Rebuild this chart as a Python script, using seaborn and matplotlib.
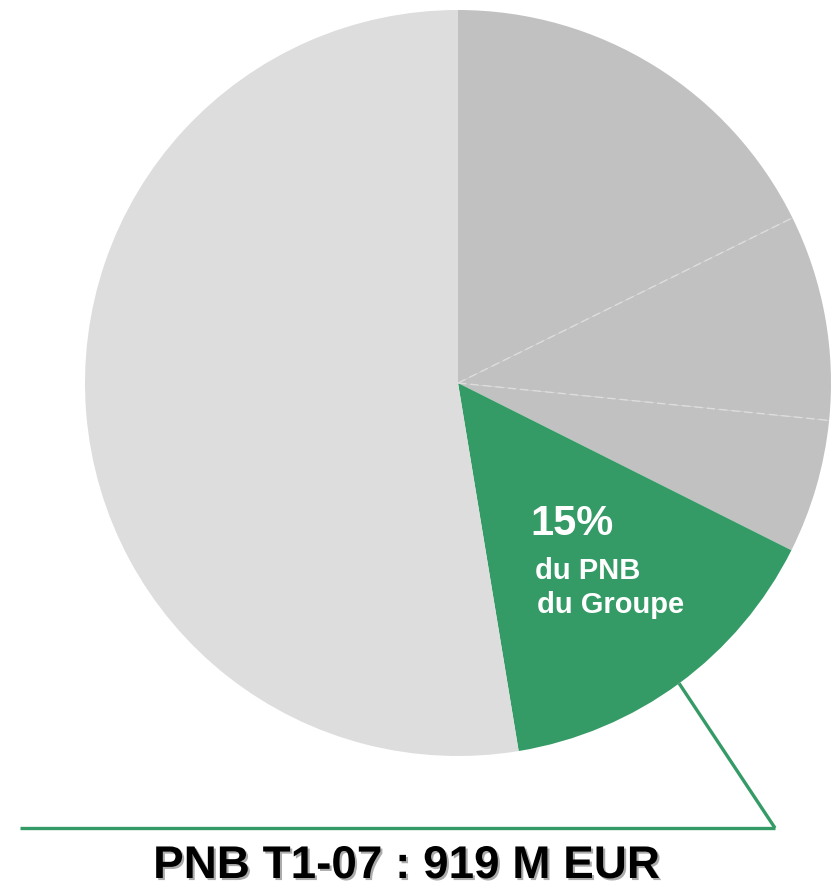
import numpy as np
import matplotlib
matplotlib.use("Agg")
import matplotlib.pyplot as plt
import matplotlib.patheffects as pe
import seaborn as sns

# Share of group net banking income (PNB), clockwise from 12 o'clock
segments = ["Segment A", "Segment B", "Segment C", "Pôle", "Autres"]
shares = [17.7, 8.9, 5.8, 15.0, 52.6]
colors = ["#C1C1C1", "#C1C1C1", "#C1C1C1", "#359B66", "#DDDDDD"]
highlight = 3
pct_label = "15%"
sub_label = ["du PNB", "du Groupe"]
title = "PNB T1-07 : 919 M EUR"

sns.set_theme(style="white")
plt.rcParams["font.family"] = ["Liberation Sans", "DejaVu Sans"]

W, H = 835, 890
fig = plt.figure(figsize=(W / 100, H / 100), dpi=100)
cx, cy, r = 458, 383, 373
ax = fig.add_axes([(cx - r) / W, (H - cy - r) / H, 2 * r / W, 2 * r / H])

wedges, _ = ax.pie(shares, colors=colors, startangle=90, counterclock=False,
                   radius=1, wedgeprops=dict(linewidth=0, edgecolor="none"))
ax.set_xlim(-1, 1)
ax.set_ylim(-1, 1)
ax.set_aspect("equal", adjustable="box")
ax.axis("off")

# dashed separators between the grey segments
total = sum(shares)
cum = np.cumsum(shares)
for i in range(2):
    ang = np.deg2rad(90 - 360 * cum[i] / total)
    ax.plot([0, np.cos(ang)], [0, np.sin(ang)], color="#DDDDDD", lw=1,
            ls=(0, (6, 3)))

# leader line from the highlighted wedge to the baseline
start = 90 - 360 * (cum[highlight] - shares[highlight]) / total
end = 90 - 360 * cum[highlight] / total
mid = np.deg2rad((start + end) / 2)
green = colors[highlight]
def to_data(px, py):
    return (px - cx) / r, (cy - py) / r
bx, by = to_data(775, 828)
lx, _ = to_data(20, 828)
ax.plot([np.cos(mid), bx], [np.sin(mid), by], color=green, lw=2.4,
        clip_on=False, solid_capstyle="butt")
ax.plot([lx, bx], [by, by], color=green, lw=2.4, clip_on=False,
        solid_capstyle="butt")

# labels inside the highlighted wedge
tx, ty = to_data(530, 524)
ax.text(tx, ty, pct_label, color="white", fontsize=30, fontweight="bold",
        ha="left", va="center")
tx, ty = to_data(535, 571)
ax.text(tx, ty, sub_label[0], color="white", fontsize=21, fontweight="bold",
        ha="left", va="center")
tx, ty = to_data(537, 605)
ax.text(tx, ty, sub_label[1], color="white", fontsize=21, fontweight="bold",
        ha="left", va="center")

fig.text(407 / W, 1 - 866 / H, title, fontsize=33, fontweight="bold",
         color="black", ha="center", va="center",
         path_effects=[pe.withSimplePatchShadow(offset=(1.5, -1.5),
                                                shadow_rgbFace="#888888",
                                                alpha=0.7)])

fig.savefig("out.png", dpi=100, facecolor="white")
